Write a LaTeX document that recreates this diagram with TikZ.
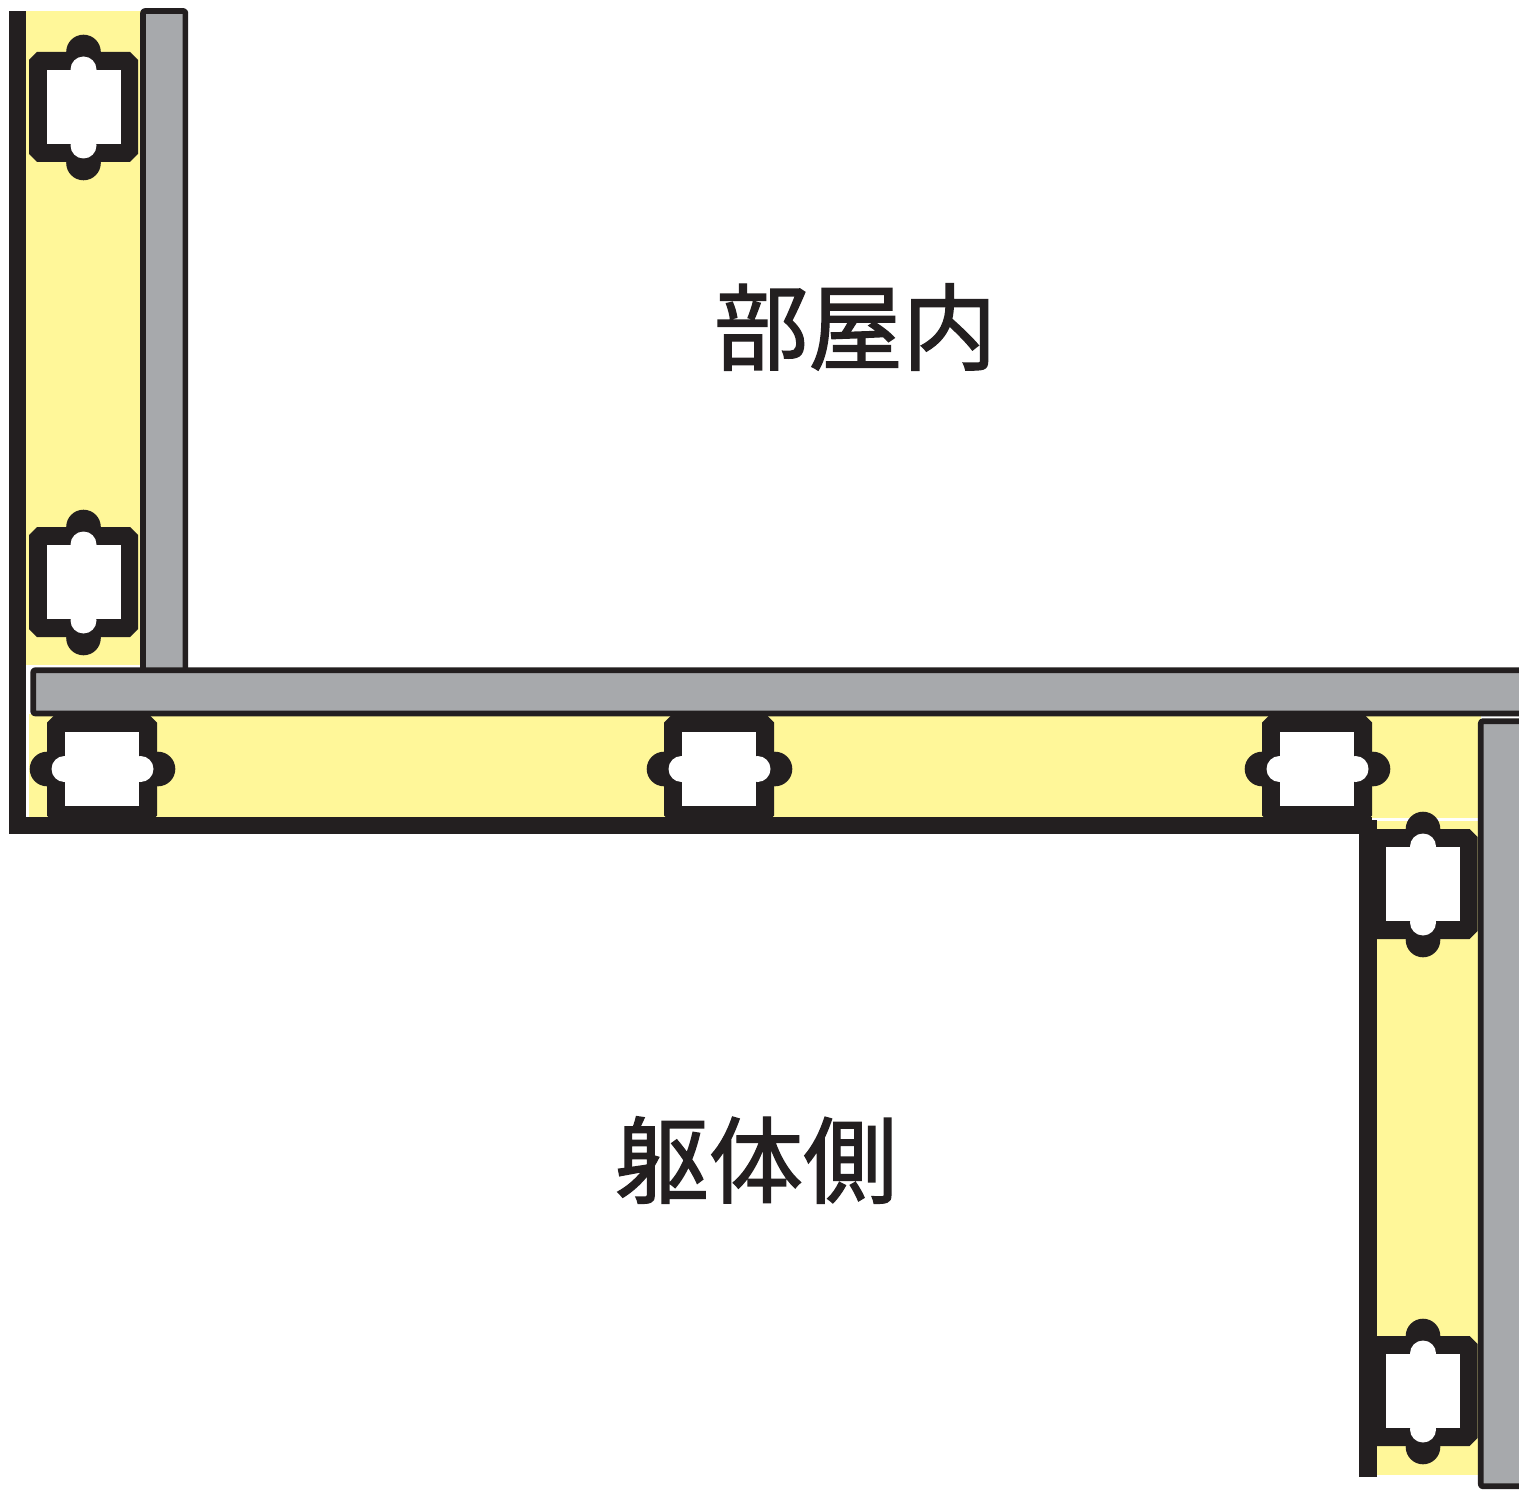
\documentclass[tikz,border=0pt]{standalone}
\usepackage{fontspec}
\newfontfamily\cjk[FakeBold=1.5]{Noto Sans CJK JP}
\definecolor{ink}{HTML}{231F20}
\definecolor{panelgrey}{HTML}{A7A9AC}
\definecolor{padyellow}{HTML}{FFF799}
\tikzset{
  padfill/.style={fill=padyellow,draw=none},
  barfill/.style={fill=ink,draw=none},
  panel/.style={fill=panelgrey,draw=ink,line width=0.113cm,rounded corners=0.04cm,line join=round},
  roomlabel/.style={inner sep=0,text=ink,font=\cjk\fontsize{53.6}{53.6}\selectfont},
  profile/.pic={
    \fill[ink] (-46.5,-55) -- (46.5,-55) -- (54.5,-47) -- (54.5,47) -- (46.5,55) -- (-46.5,55) -- (-54.5,47) -- (-54.5,-47) -- cycle;
    \fill[ink] (0,-55) circle (17.3);
    \fill[ink] (0,56) circle (17.3);
    \fill[white] (-37,-37) rectangle (37,37);
    \fill[white] (0,-37.5) circle (13);
    \fill[white] (0,38.5) circle (13);
  }
}
\begin{document}
\begin{tikzpicture}[x=0.02cm,y=-0.02cm]
\clip (0,0) rectangle (1519,1490);
\fill[white] (0,0) rectangle (1519,1490);
% insulation
\fill[padfill] (26,11) rectangle (141,665);
\fill[padfill] (29,714) rectangle (1481,818);
\fill[padfill] (1376,821) rectangle (1481,1475);
% profiles
\pic at (83.5,107) {profile};
\pic at (83.5,582) {profile};
\pic[rotate=90] at (102,769) {profile};
\pic[rotate=90] at (719,769) {profile};
\pic[rotate=90] at (1317,769) {profile};
\pic at (1423,884) {profile};
\pic at (1423,1391) {profile};
% black bars
\fill[barfill] (9,11.3) rectangle (26.3,834);
\fill[barfill] (9,817) rectangle (1372,834);
\fill[barfill] (1359.3,820) rectangle (1376.7,1476.7);
% grey panels
\draw[panel] (143,672) -- (143,11) -- (185.4,11) -- (185.4,672);
\draw[panel] (1560,670.2) -- (33.2,670.2) -- (33.2,713.5) -- (1560,713.5);
\draw[panel] (1560,721.2) -- (1480.8,721.2) -- (1480.8,1486.3) -- (1560,1486.3);
% labels
\node[roomlabel] (room) at (855.5,327) {部屋内};
\node[roomlabel] (body) at (756,1160) {躯体側};
\end{tikzpicture}
\end{document}
